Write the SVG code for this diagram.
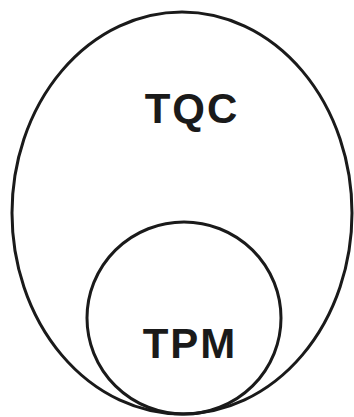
<svg xmlns="http://www.w3.org/2000/svg" width="354" height="417" viewBox="0 0 354 417">
<style>
.shape{fill:none;stroke:#1a1a1a;stroke-width:3}
.lbl{font-family:"Liberation Sans",Arial,sans-serif;font-weight:bold;font-size:42px;fill:#1a1a1a;text-anchor:middle;letter-spacing:2px}
</style>
<rect width="354" height="417" fill="#fff"/>
<g id="tqc">
<ellipse class="shape" cx="182" cy="213" rx="170" ry="201"/>
<text class="lbl" x="192" y="123">TQC</text>
</g>
<g id="tpm">
<ellipse class="shape" cx="184" cy="318" rx="97" ry="96"/>
<text class="lbl" x="190" y="358">TPM</text>
</g>
<g id="connectors"></g>
</svg>
